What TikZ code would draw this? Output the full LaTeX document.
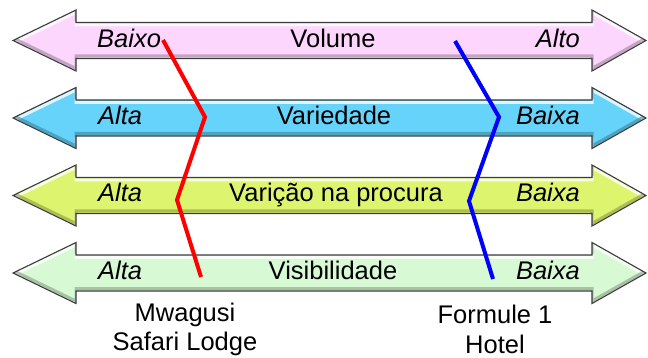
\documentclass[tikz,border=0pt]{standalone}
\usepackage{fontspec}
\setmainfont{Liberation Sans}
\definecolor{cpink}{RGB}{252,214,252}
\definecolor{ccyan}{RGB}{102,211,250}
\definecolor{cyel}{RGB}{221,245,110}
\definecolor{cgrn}{RGB}{215,250,213}
\definecolor{cedge}{RGB}{60,60,60}
\tikzset{
  lbl/.style={font=\fontsize{25.5}{29}\selectfont, inner sep=0pt, anchor=base},
  lbli/.style={lbl, font=\fontsize{25.5}{29}\selectfont\itshape},
  captxt/.style={font=\fontsize{25.5}{29.5}\selectfont, align=center, inner sep=0pt},
  redl/.style={draw=red, line width=4pt, line join=miter},
  bluel/.style={draw=blue, line width=4pt, line join=miter},
}
\newcommand{\dblarrow}[2]{%
  \def\arrpath{(13,#1) -- (76,#1-30.5) -- (76,#1-18) -- (592,#1-18) -- (592,#1-30.5) -- (646,#1) -- (592,#1+30.5) -- (592,#1+18) -- (76,#1+18) -- (76,#1+30.5) -- cycle}%
  \fill[#2] \arrpath;
  \begin{scope}
    \clip \arrpath;
    \draw[white, line width=3pt, opacity=0.8, yshift=-2.5pt] \arrpath;
    \draw[#2!55!black, line width=3pt, opacity=0.5, yshift=2.5pt] \arrpath;
  \end{scope}
  \draw[cedge, line width=1.1pt, line join=miter] \arrpath;
}
\begin{document}
\begin{tikzpicture}[x=1pt, y=-1pt]
\useasboundingbox (0,0) rectangle (648,358);
\dblarrow{40.5}{cpink}
\dblarrow{118}{ccyan}
\dblarrow{195.5}{cyel}
\dblarrow{273}{cgrn}

\node[lbli, anchor=base west] (b1) at (97,47.5) {Baixo};
\node[lbl] (t1) at (333,47.5) {Volume};
\node[lbli, anchor=base east] (a1) at (580,47.5) {Alto};

\node[lbli, anchor=base west] (b2) at (98,124.5) {Alta};
\node[lbl] (t2) at (334,124.5) {Variedade};
\node[lbli, anchor=base east] (a2) at (580,124.5) {Baixa};

\node[lbli, anchor=base west] (b3) at (98,202) {Alta};
\node[lbl] (t3) at (336,202) {Varição na procura};
\node[lbli, anchor=base east] (a3) at (580,202) {Baixa};

\node[lbli, anchor=base west] (b4) at (98,279.5) {Alta};
\node[lbl] (t4) at (333,279.5) {Visibilidade};
\node[lbli, anchor=base east] (a4) at (580,279.5) {Baixa};

\coordinate (r1) at (163,40);
\coordinate (r2) at (205,117);
\coordinate (r3) at (177,200);
\coordinate (r4) at (201,277);
\draw[redl] (r1) -- (r2) -- (r3) -- (r4);

\coordinate (u1) at (455,41);
\coordinate (u2) at (499,117);
\coordinate (u3) at (469,201);
\coordinate (u4) at (493,279);
\draw[bluel] (u1) -- (u2) -- (u3) -- (u4);

\node[captxt] (m) at (185,329.5) {Mwagusi\\Safari Lodge};
\node[captxt] (f) at (495,329.5) {Formule 1\\Hotel};
\end{tikzpicture}
\end{document}
